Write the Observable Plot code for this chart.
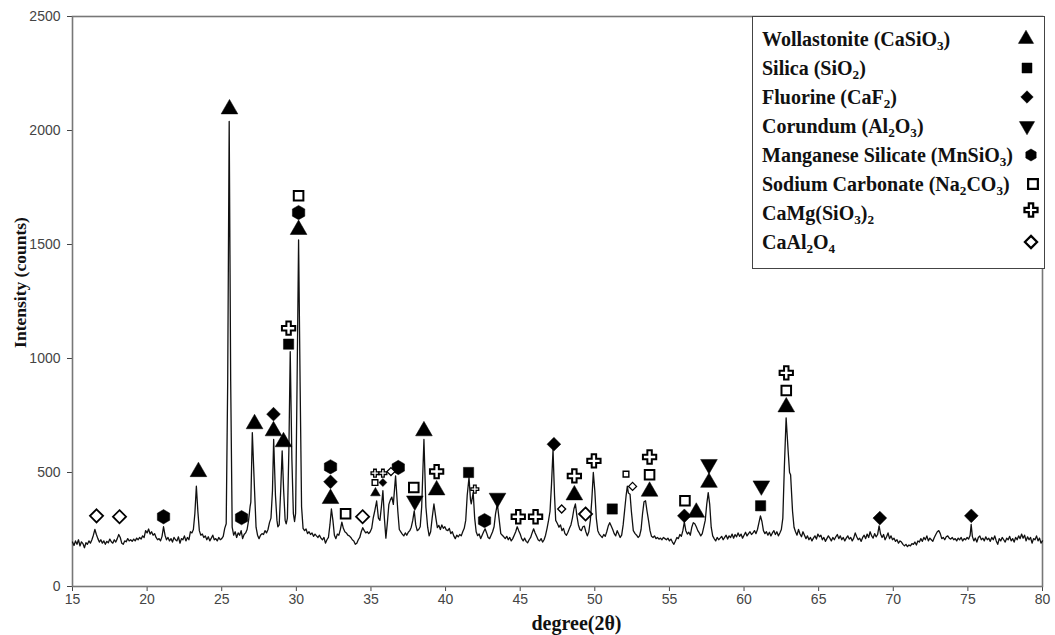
<!DOCTYPE html>
<html><head><meta charset="utf-8">
<script src="https://cdn.jsdelivr.net/npm/d3@7"></script>
<script src="https://cdn.jsdelivr.net/npm/@observablehq/plot@0.6"></script>
<style>
body{margin:0;background:#fff;}
#wrap{position:relative;width:1055px;height:635px;}
#legend{position:absolute;left:752px;top:16px;width:293px;height:253px;border:1px solid #444;background:#fff;font-family:"Liberation Serif","Times New Roman",serif;font-weight:bold;font-size:20px;color:#111;box-sizing:border-box;}
.row{position:absolute;left:9px;height:22px;line-height:22px;white-space:nowrap;margin-top:-11px}
.sym{position:absolute;}
sub{font-size:0.66em;vertical-align:-0.3em;line-height:0}
</style></head>
<body><div id="wrap"><div id="chart"></div><div id="legend"></div></div>
<script>
// ---- scan data: [2theta, counts] ----
const scan15to30 = [
[15.0,195],[15.1,180],[15.2,200],[15.3,185],[15.4,205],[15.5,178],[15.6,196],[15.7,188],[15.8,170],[15.9,192],
[16.0,185],[16.1,200],[16.2,190],[16.3,205],[16.4,225],[16.5,250],[16.6,228],[16.7,210],[16.8,195],[16.9,205],
[17.0,190],[17.1,200],[17.2,185],[17.3,198],[17.4,192],[17.5,208],[17.6,196],[17.7,190],[17.8,205],[17.9,195],
[18.0,210],[18.1,228],[18.2,215],[18.3,190],[18.4,185],[18.5,200],[18.6,196],[18.7,210],[18.8,200],[18.9,205],
[19.0,198],[19.1,208],[19.2,200],[19.3,212],[19.4,205],[19.5,215],[19.6,208],[19.7,222],[19.8,215],[19.9,245],
[20.0,235],[20.1,252],[20.2,230],[20.3,240],[20.4,225],[20.5,232],[20.6,215],[20.7,205],[20.8,210],[20.9,200],
[21.0,220],[21.1,262],[21.2,225],[21.3,205],[21.4,215],[21.5,200],[21.6,210],[21.7,195],[21.8,215],[21.9,205],
[22.0,200],[22.1,218],[22.2,190],[22.3,210],[22.4,205],[22.5,222],[22.6,200],[22.7,215],[22.8,205],[22.9,240],
[23.0,235],[23.1,250],[23.2,320],[23.3,440],[23.4,330],[23.5,245],[23.6,225],[23.7,230],[23.8,215],[23.9,222],
[24.0,205],[24.1,218],[24.2,200],[24.3,212],[24.4,225],[24.5,205],[24.6,210],[24.7,200],[24.8,215],[24.9,205],
[25.0,210],[25.1,220],[25.2,255],[25.3,275],[25.4,900],[25.5,2040],[25.6,900],[25.7,260],[25.8,225],[25.9,240],
[26.0,215],[26.1,235],[26.2,225],[26.3,245],[26.4,210],[26.5,228],[26.6,235],[26.7,250],[26.8,290],[26.9,350],
[26.95,370],[27.05,675],[27.2,420],[27.3,260],[27.4,225],[27.5,210],[27.6,225],[27.7,232],[27.8,228],[27.9,245],
[28.0,235],[28.1,250],[28.2,280],[28.3,300],[28.4,420],[28.48,645],[28.6,400],[28.7,290],[28.76,262],[28.85,270],
[28.95,420],[29.05,595],[29.15,420],[29.25,290],[29.32,275],[29.4,300],[29.5,600],[29.59,1030],[29.7,560],[29.8,320],
[29.88,285],[29.95,320]
];
const scan30to45 = [
[30.05,900],[30.15,1520],[30.25,900],[30.35,350],[30.45,255],[30.55,245],[30.65,252],[30.75,232],[30.85,240],[30.95,228],
[31.05,235],[31.15,220],[31.25,230],[31.35,222],[31.45,215],[31.55,225],[31.65,212],[31.75,205],[31.85,215],[31.95,190],
[32.05,205],[32.15,215],[32.25,270],[32.35,340],[32.45,290],[32.55,225],[32.65,210],[32.75,230],[32.85,225],[32.95,250],
[33.05,282],[33.15,255],[33.25,240],[33.35,235],[33.45,225],[33.55,222],[33.65,215],[33.75,205],[33.85,200],[33.95,185],
[34.05,190],[34.15,205],[34.25,215],[34.35,240],[34.45,258],[34.55,245],[34.65,235],[34.75,240],[34.85,232],[34.95,240],
[35.05,255],[35.15,300],[35.25,330],[35.38,375],[35.5,300],[35.6,290],[35.7,350],[35.8,420],[35.9,300],[36.0,212],
[36.1,280],[36.2,360],[36.3,380],[36.4,392],[36.5,360],[36.65,485],[36.8,330],[36.9,250],[37.0,240],[37.1,230],
[37.2,222],[37.3,235],[37.4,225],[37.5,238],[37.6,245],[37.7,260],[37.8,290],[37.9,332],[38.0,270],[38.1,245],
[38.2,250],[38.3,262],[38.4,350],[38.55,645],[38.68,350],[38.8,260],[38.9,222],[39.0,240],[39.1,300],[39.22,362],
[39.35,300],[39.45,258],[39.55,268],[39.65,250],[39.75,270],[39.85,255],[39.95,262],[40.05,248],[40.15,245],[40.25,255],
[40.35,232],[40.45,240],[40.55,222],[40.65,210],[40.75,225],[40.85,218],[40.95,228],[41.05,222],[41.15,240],[41.25,255],
[41.35,290],[41.45,400],[41.57,478],[41.67,380],[41.72,362],[41.85,412],[41.95,300],[42.05,240],[42.15,223],[42.25,230],
[42.35,210],[42.45,225],[42.55,240],[42.65,253],[42.75,235],[42.85,215],[42.95,210],[43.05,225],[43.15,240],[43.25,262],
[43.35,320],[43.47,362],[43.58,300],[43.7,232],[43.8,225],[43.9,218],[44.0,210],[44.1,220],[44.2,205],[44.3,215],
[44.4,200],[44.5,210],[44.6,225],[44.7,240],[44.8,262],[44.9,245]
];
const scan45to63 = [
[45.0,230],[45.1,210],[45.2,200],[45.3,212],[45.4,198],[45.5,192],[45.6,205],[45.7,215],[45.8,235],[45.9,253],
[46.0,235],[46.1,220],[46.2,205],[46.3,200],[46.4,210],[46.5,195],[46.6,205],[46.7,225],[46.8,255],[46.9,290],
[47.0,330],[47.1,450],[47.2,600],[47.3,400],[47.38,290],[47.5,275],[47.6,260],[47.7,270],[47.8,245],[47.9,255],
[48.0,232],[48.1,225],[48.2,238],[48.3,255],[48.4,270],[48.5,300],[48.6,340],[48.7,362],[48.8,310],[48.9,270],
[49.0,250],[49.1,245],[49.2,262],[49.3,265],[49.4,240],[49.5,222],[49.6,240],[49.7,290],[49.8,380],[49.9,500],
[50.0,420],[50.1,300],[50.2,245],[50.3,230],[50.4,222],[50.5,215],[50.6,228],[50.7,220],[50.8,240],[50.9,265],
[51.0,280],[51.1,265],[51.2,250],[51.3,232],[51.4,222],[51.5,245],[51.6,230],[51.7,215],[51.8,225],[51.9,270],
[52.0,335],[52.1,400],[52.18,440],[52.25,410],[52.36,405],[52.45,330],[52.58,245],[52.7,232],[52.8,225],[52.9,215],
[53.0,222],[53.1,250],[53.2,320],[53.3,372],[53.4,376],[53.5,330],[53.6,290],[53.7,245],[53.8,220],[53.9,215],
[54.0,222],[54.1,210],[54.2,215],[54.3,208],[54.4,212],[54.5,205],[54.6,215],[54.7,210],[54.8,205],[54.9,212],
[55.0,200],[55.1,208],[55.2,195],[55.3,185],[55.4,200],[55.5,215],[55.6,210],[55.7,228],[55.8,220],[55.9,245],
[56.0,282],[56.1,245],[56.2,230],[56.3,238],[56.4,225],[56.5,260],[56.6,280],[56.7,275],[56.8,262],[56.9,245],
[57.0,235],[57.1,222],[57.2,232],[57.3,260],[57.4,290],[57.5,360],[57.6,412],[57.7,360],[57.8,260],[57.9,222],
[58.0,210],[58.1,200],[58.2,215],[58.3,205],[58.4,212],[58.5,220],[58.6,205],[58.7,215],[58.8,225],[58.9,208],
[59.0,222],[59.1,215],[59.2,230],[59.3,212],[59.4,228],[59.5,218],[59.6,235],[59.7,220],[59.8,230],[59.9,212],
[60.0,225],[60.1,238],[60.2,222],[60.3,232],[60.4,240],[60.5,228],[60.6,235],[60.7,245],[60.8,232],[60.9,250],
[61.0,280],[61.1,310],[61.2,285],[61.3,245],[61.4,232],[61.5,240],[61.6,225],[61.7,238],[61.8,222],[61.9,235],
[62.0,245],[62.1,228],[62.2,240],[62.3,222],[62.4,235],[62.5,250],[62.6,300],[62.7,520],[62.82,740],[62.95,600]
];
const scan63to80 = [
[63.05,500],[63.12,490],[63.25,330],[63.35,260],[63.45,240],[63.55,225],[63.65,250],[63.75,230],[63.85,218],[63.95,240],
[64.05,225],[64.15,210],[64.25,222],[64.35,205],[64.45,215],[64.55,200],[64.65,212],[64.75,222],[64.85,208],[64.95,230],
[65.05,218],[65.15,225],[65.25,205],[65.35,215],[65.45,198],[65.55,210],[65.65,222],[65.75,212],[65.85,200],[65.95,215],
[66.05,205],[66.15,218],[66.25,228],[66.35,210],[66.45,222],[66.55,205],[66.65,215],[66.75,200],[66.85,212],[66.95,222],
[67.05,208],[67.15,215],[67.25,200],[67.35,212],[67.45,235],[67.55,218],[67.65,205],[67.75,212],[67.85,198],[67.95,215],
[68.05,225],[68.15,210],[68.25,230],[68.35,215],[68.45,240],[68.55,222],[68.65,212],[68.75,232],[68.85,218],[68.95,228],
[69.05,266],[69.15,230],[69.25,215],[69.35,228],[69.45,205],[69.55,218],[69.65,235],[69.75,210],[69.85,222],[69.95,205],
[70.05,212],[70.15,198],[70.25,205],[70.35,190],[70.45,200],[70.55,195],[70.65,185],[70.75,178],[70.85,185],[70.95,175],
[71.05,182],[71.15,178],[71.25,188],[71.35,185],[71.45,195],[71.55,182],[71.65,200],[71.75,195],[71.85,210],[71.95,198],
[72.05,215],[72.15,205],[72.25,222],[72.35,200],[72.45,212],[72.55,205],[72.65,198],[72.75,215],[72.85,228],[72.95,240],
[73.05,245],[73.15,232],[73.25,210],[73.35,215],[73.45,205],[73.55,218],[73.65,222],[73.75,212],[73.85,208],[73.95,215],
[74.05,205],[74.15,210],[74.25,200],[74.35,212],[74.45,205],[74.55,215],[74.65,200],[74.75,210],[74.85,205],[74.95,215],
[75.05,208],[75.15,225],[75.22,272],[75.3,220],[75.4,200],[75.5,212],[75.6,195],[75.7,215],[75.8,222],[75.9,205],
[76.0,212],[76.1,200],[76.2,218],[76.3,205],[76.4,212],[76.5,198],[76.6,215],[76.7,205],[76.8,222],[76.9,200],
[77.0,185],[77.1,210],[77.2,200],[77.3,215],[77.4,205],[77.5,195],[77.6,212],[77.7,205],[77.8,220],[77.9,200],
[78.0,210],[78.1,195],[78.2,215],[78.3,205],[78.4,222],[78.5,210],[78.6,230],[78.7,212],[78.8,225],[78.9,200],
[79.0,218],[79.1,205],[79.2,215],[79.3,190],[79.4,210],[79.5,205],[79.6,222],[79.7,200],[79.8,212],[79.9,190],[80.0,200]
];

// ---- phase markers: [2theta, counts] ----
const wollastonite = [[23.44,503],[25.52,2094],[27.2,713],[28.47,682],[29.14,634],[30.15,1565],[32.29,385],[38.55,682],[39.4,423],[48.63,401],[53.67,417],[56.8,325],[57.65,456],[62.83,787]];
const wollastoniteMinor = [[35.3,410]];
const silica = [[29.48,1063],[41.54,500],[51.17,340],[61.11,354]];
const fluorine = [[28.47,756],[32.29,459],[47.26,624],[56.0,310],[69.1,300],[75.23,310]];
const fluorineMinor = [[35.8,456]];
const corundum = [[37.94,376],[43.48,388],[57.65,536],[61.16,442]];
const manganese = [[21.1,306],[26.33,302],[30.15,1640],[32.29,525],[36.83,522],[42.61,289]];
const sodium = [[30.15,1714],[33.3,319],[37.87,434],[53.67,490],[56.04,376],[62.83,860]];
const sodiumMinor = [[35.27,456],[52.09,493]];
const camg = [[29.48,1133],[39.4,504],[44.87,306],[46.03,306],[48.63,485],[49.94,551],[53.67,568],[62.83,937]];
const camgMinor = [[35.27,497],[35.8,497],[41.96,427]];
const caal = [[16.61,310],[18.15,306],[34.44,306],[49.38,318]];
const caalMinor = [[36.34,504],[47.78,340],[52.53,439]];

const xTicks = [15,20,25,30,35,40,45,50,55,60,65,70,75,80];
const yTicks = [0,500,1000,1500,2000,2500];

const legendItems = [
  {html:"Wollastonite (CaSiO<sub>3</sub>)", symbol:"triangle", fill:"#000"},
  {html:"Silica (SiO<sub>2</sub>)", symbol:"square", fill:"#000"},
  {html:"Fluorine (CaF<sub>2</sub>)", symbol:"diamond2", fill:"#000"},
  {html:"Corundum (Al<sub>2</sub>O<sub>3</sub>)", symbol:"triangleDown", fill:"#000"},
  {html:"Manganese Silicate (MnSiO<sub>3</sub>)", symbol:"hexagon", fill:"#000"},
  {html:"Sodium Carbonate (Na<sub>2</sub>CO<sub>3</sub>)", symbol:"square", fill:"#fff"},
  {html:"CaMg(SiO<sub>3</sub>)<sub>2</sub>", symbol:"cross", fill:"#fff"},
  {html:"CaAl<sub>2</sub>O<sub>4</sub>", symbol:"diamond2", fill:"#fff"}
];

const scan = [...scan15to30, ...scan30to45, ...scan45to63, ...scan63to80];
const X = d => d[0], Y = d => d[1];
const big = 6.2, small = 3.6;

function markers(data, symbol, fill, r, extra = {}) {
  return Plot.dot(data, {x: X, y: Y, symbol, r, fill, stroke: "#000",
    strokeWidth: fill === "#000" ? 0.5 : 2, ...extra});
}

const serif = "'Liberation Serif', 'Times New Roman', serif";
const chart = Plot.plot({
  width: 1055, height: 635,
  marginLeft: 72, marginRight: 13, marginTop: 16, marginBottom: 49,
  style: {background: "#fff", fontFamily: "'Liberation Sans', Arial, sans-serif"},
  x: {domain: [15, 80]},
  y: {domain: [0, 2500]},
  marks: [
    Plot.axisX({ticks: xTicks, tickSize: 5, tickPadding: 3, fontSize: 14, label: null, color: "#444", tickFormat: d => String(d)}),
    Plot.axisY({ticks: yTicks, tickSize: 5, tickPadding: 7, fontSize: 14, label: null, color: "#444", tickFormat: d => String(d)}),
    Plot.frame({stroke: "#777", strokeWidth: 1.6}),
    Plot.line(scan, {x: X, y: Y, stroke: "#111", strokeWidth: 1.3}),
    markers(wollastonite, "triangle", "#000", big),
    markers(wollastoniteMinor, "triangle", "#000", small),
    markers(silica, "square", "#000", big - 0.4),
    markers(fluorine, "diamond2", "#000", big),
    markers(fluorineMinor, "diamond2", "#000", small),
    markers(corundum, "triangle", "#000", big, {rotate: 180}),
    markers(manganese, "hexagon", "#000", big),
    markers(sodium, "square", "#fff", big - 0.8),
    markers(sodiumMinor, "square", "#fff", small - 0.4, {strokeWidth: 1.4}),
    markers(camg, "cross", "#fff", big - 0.6),
    markers(camgMinor, "cross", "#fff", small - 0.3, {strokeWidth: 1.3}),
    markers(caal, "diamond2", "#fff", big - 0.3, {strokeWidth: 1.8}),
    markers(caalMinor, "diamond2", "#fff", small, {strokeWidth: 1.3}),
    Plot.text(["degree(2θ)"], {frameAnchor: "bottom", lineAnchor: "middle", textAnchor: "middle", dx: 19, dy: 37, fontFamily: serif, fontWeight: "bold", fontSize: 20, fill: "#111"}),
    Plot.text(["Intensity (counts)"], {frameAnchor: "left", textAnchor: "middle", lineAnchor: "middle", rotate: -90, dx: -52, dy: -19, fontFamily: serif, fontWeight: "bold", fontSize: 17.5, fill: "#111"})
  ]
});
document.getElementById("chart").appendChild(chart);

// legend
const symbolMap = {triangle: d3.symbolTriangle, square: d3.symbolSquare, diamond2: d3.symbolDiamond2, cross: d3.symbolCross};
function hexagonPath(r) {
  const pts = d3.range(6).map(i => { const a = Math.PI / 3 * i; return [r * Math.sin(a), -r * Math.cos(a)]; });
  return "M" + pts.map(p => p.join(",")).join("L") + "Z";
}
const rowY = [22, 51, 80, 109, 138, 167, 196, 225];
const symX = [273, 274, 274, 274, 278, 280, 278, 278];
const legend = d3.select("#legend");
legendItems.forEach((it, i) => {
  legend.append("div").attr("class", "row").style("top", rowY[i] + "px").html(it.html);
  const svg = legend.append("svg").attr("class", "sym").attr("width", 20).attr("height", 20)
    .style("left", (symX[i] - 10) + "px").style("top", (rowY[i] - 10 - (i === 6 ? 3 : 0)) + "px");
  let d;
  if (it.symbol === "hexagon") d = hexagonPath(6);
  else if (it.symbol === "triangleDown") d = d3.symbol(d3.symbolTriangle, 100)();
  else d = d3.symbol(symbolMap[it.symbol], it.fill === "#fff" ? 95 : 100)();
  svg.append("path").attr("d", d).attr("transform", "translate(10,10)" + (it.symbol === "triangleDown" ? " rotate(180)" : ""))
    .attr("fill", it.fill).attr("stroke", "#000").attr("stroke-width", it.fill === "#fff" ? 2.2 : 0.5);
});
</script>
</body></html>
